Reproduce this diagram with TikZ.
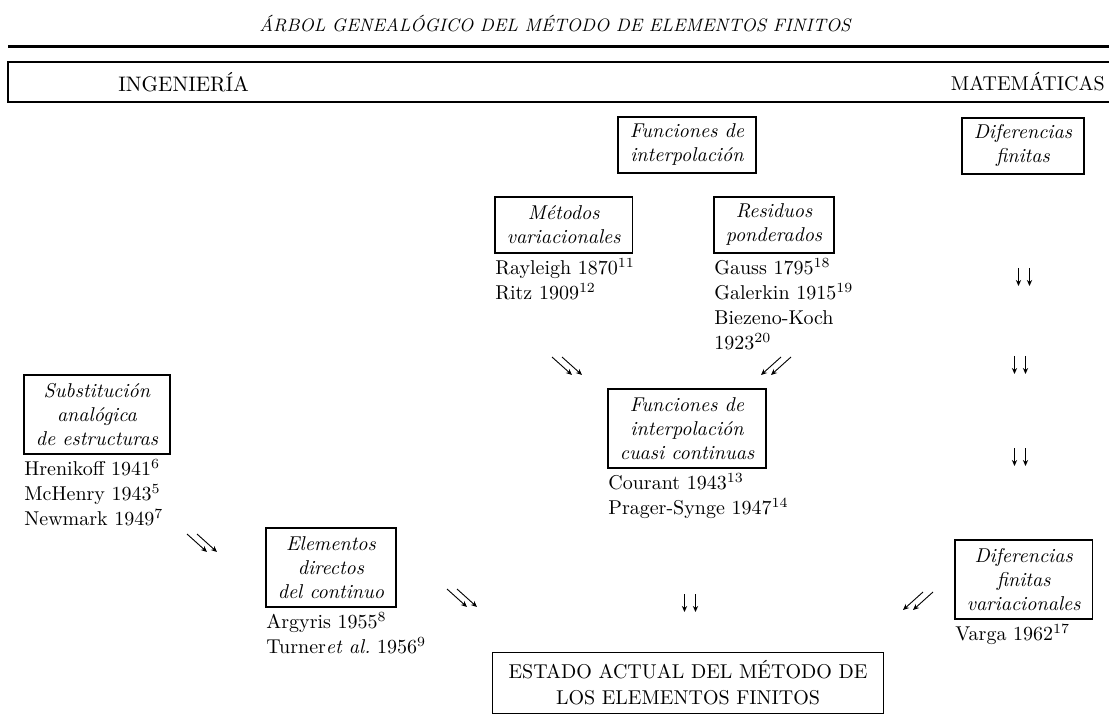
\documentclass[tikz,border=0pt]{standalone}
\usepackage{fontspec}
\usetikzlibrary{arrows.meta}
\tikzset{
  box/.style={draw, line width=0.8pt, inner xsep=6pt, inner ysep=3pt, align=center,
    anchor=north west, font=\fontsize{10}{12}\selectfont\itshape},
  two/.style={minimum height=28pt},
  three/.style={minimum height=39.5pt},
  lst/.style={anchor=north west, inner sep=0pt, align=left, font=\fontsize{10}{12.5}\selectfont},
  arr/.style={-{Stealth[length=3pt,width=2.6pt]}, line width=0.45pt},
  ddn/.pic={\draw[arr] (-5.5,-9) -- (-5.5,9); \draw[arr] (5.5,-9) -- (5.5,9);},
  dse/.pic={\draw[arr] (-15,-9) -- (5,9); \draw[arr] (-5,-9) -- (15,9);},
  dsw/.pic={\draw[arr] (15,-9) -- (-5,9); \draw[arr] (5,-9) -- (-15,9);}
}
\begin{document}
\begin{tikzpicture}[x=0.5pt,y=-0.5pt]
\useasboundingbox[fill=white] (0,0) rectangle (1109,727);
% title and header band
\node[font=\fontsize{9}{11}\selectfont\itshape] (title) at (555,24) {ÁRBOL GENEALÓGICO DEL MÉTODO DE ELEMENTOS FINITOS};
\draw[line width=1.5pt] (8,47) -- (1109,47);
\draw[line width=0.9pt] (1115,62) -- (8,62) -- (8,102) -- (1115,102);
\node[anchor=west, font=\fontsize{10.5}{12}\selectfont, inner sep=0pt] (ing) at (118,82) {INGENIERÍA};
\node[anchor=east, font=\fontsize{10}{12}\selectfont, inner sep=0pt] (mat) at (1105,82) {MATEMÁTICAS};
% boxes
\node[box,two] (funint) at (617,116) {Funciones de\\interpolación};
\node[box,two] (difin) at (961,117) {Diferencias\\finitas};
\node[box,two] (metvar) at (494,196) {Métodos\\variacionales};
\node[box,two] (resid) at (713,196) {Residuos\\ponderados};
\node[box,three] (cuasi) at (607,388) {Funciones de\\interpolación\\cuasi continuas};
\node[box,three] (subst) at (23,374) {Substitución\\analógica\\de estructuras};
\node[box,three] (elem) at (265,527) {Elementos\\directos\\del continuo};
\node[box,three] (difvar) at (954,539) {Diferencias\\finitas\\variacionales};
\node[draw, line width=0.8pt, align=center, inner xsep=8pt, inner ysep=4pt,
  font=\fontsize{10}{13}\selectfont] (estado) at (688,683) {ESTADO ACTUAL DEL MÉTODO DE\\LOS ELEMENTOS FINITOS};
% author lists
\node[lst] (rayl) at ([shift={(1,4)}]metvar.south west) {Rayleigh 1870\textsuperscript{11}\\Ritz 1909\textsuperscript{12}};
\node[lst] (gauss) at ([shift={(1,4)}]resid.south west) {Gauss 1795\textsuperscript{18}\\Galerkin 1915\textsuperscript{19}\\Biezeno-Koch\\1923\textsuperscript{20}};
\node[lst] (courant) at ([shift={(1,4)}]cuasi.south west) {Courant 1943\textsuperscript{13}\\Prager-Synge 1947\textsuperscript{14}};
\node[lst] (hren) at ([shift={(1,4)}]subst.south west) {Hrenikoff 1941\textsuperscript{6}\\McHenry 1943\textsuperscript{5}\\Newmark 1949\textsuperscript{7}};
\node[lst] (arg) at ([shift={(1,4)}]elem.south west) {Argyris 1955\textsuperscript{8}\\Turner\textit{et al.}\ 1956\textsuperscript{9}};
\node[lst] (varga) at ([shift={(1,4)}]difvar.south west) {Varga 1962\textsuperscript{17}};
% double arrows
\coordinate (a1) at (567,366);
\coordinate (a2) at (776,366);
\coordinate (a3) at (1024,277);
\coordinate (a4) at (1020,365);
\coordinate (a5) at (1020,457);
\coordinate (a6) at (202,543);
\coordinate (a7) at (462,598);
\coordinate (a8) at (690,603);
\coordinate (a9) at (918,601);
\pic at (a1) {dse};
\pic at (a2) {dsw};
\pic at (a3) {ddn};
\pic at (a4) {ddn};
\pic at (a5) {ddn};
\pic at (a6) {dse};
\pic at (a7) {dse};
\pic at (a8) {ddn};
\pic at (a9) {dsw};
\end{tikzpicture}
\end{document}
